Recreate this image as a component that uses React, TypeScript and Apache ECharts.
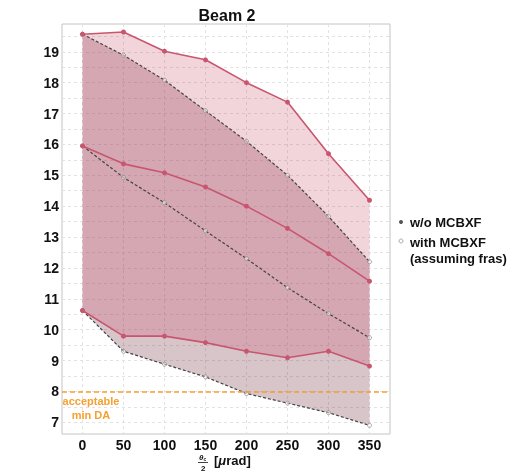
import React, { useEffect, useRef } from "react";
import * as echarts from "echarts";

const thetaHalf = [0, 50, 100, 150, 200, 250, 300, 350];
const xTicks = [0, 50, 100, 150, 200, 250, 300, 350];
const yTicks = [7, 8, 9, 10, 11, 12, 13, 14, 15, 16, 17, 18, 19];
const yGrid = [7, 7.5, 8, 8.5, 9, 9.5, 10, 10.5, 11, 11.5, 12, 12.5, 13, 13.5, 14, 14.5, 15, 15.5, 16, 16.5, 17, 17.5, 18, 18.5, 19, 19.5];

// with MCBXF (assuming fras)
const withMax = [19.57, 19.64, 19.02, 18.74, 18.0, 17.37, 15.7, 14.19];
const withMean = [15.95, 15.37, 15.08, 14.62, 14.0, 13.28, 12.46, 11.57];
const withMin = [10.62, 9.79, 9.79, 9.58, 9.3, 9.09, 9.3, 8.82];

// w/o MCBXF
const woMax = [19.57, 18.89, 18.08, 17.09, 16.1, 15.0, 13.67, 12.2];
const woMean = [15.95, 14.93, 14.11, 13.2, 12.3, 11.36, 10.52, 9.74];
const woMin = [10.62, 9.3, 8.88, 8.47, 7.93, 7.62, 7.31, 6.9];

const minDA = 8;

const FONT = "'Liberation Sans', Arial, sans-serif";
const RED = "#c9566f";
const DASH = "#444444";

const pairs = (ys: number[]) => thetaHalf.map((x, i) => [x, ys[i]]);

const band = (name: string, hi: number[], lo: number[], fill: string, z: number) => ({
  name,
  type: "custom",
  z,
  silent: true,
  data: [[0]],
  renderItem: (_params: any, api: any) => {
    const top = thetaHalf.map((x, i) => api.coord([x, hi[i]]));
    const bottom = thetaHalf.map((x, i) => api.coord([x, lo[i]])).reverse();
    return {
      type: "polygon",
      shape: { points: top.concat(bottom) },
      style: { fill, stroke: "none" },
    };
  },
});

export default function App() {
  const ref = useRef<HTMLDivElement>(null);
  useEffect(() => {
    if (!ref.current) return;
    const chart = echarts.init(ref.current, null, { renderer: "svg" });
    const redLine = (name: string, ys: number[]) => ({
      name,
      type: "line",
      data: pairs(ys),
      z: 5,
      symbol: "circle",
      symbolSize: 5,
      lineStyle: { color: RED, width: 1.6 },
      itemStyle: { color: RED },
    });
    const dashLine = (name: string, ys: number[]) => ({
      name,
      type: "line",
      data: pairs(ys),
      z: 4,
      symbol: "circle",
      symbolSize: 4,
      lineStyle: { color: DASH, width: 1.2, type: [3, 2] },
      itemStyle: { color: "rgba(255,255,255,0.5)", borderColor: "#8a8a8a", borderWidth: 0.8 },
    });
    chart.setOption({
      animation: false,
      title: {
        text: "Beam 2",
        left: 222,
        textAlign: "center",
        top: 2,
        textStyle: { fontFamily: FONT, fontWeight: "bold", fontSize: 16, color: "#111" },
      },
      grid: {
        left: 62,
        top: 24,
        width: 328,
        height: 410,
        show: true,
        borderColor: "#c4c4c4",
        borderWidth: 1,
        backgroundColor: "transparent",
      },
      xAxis: {
        type: "value",
        min: -25,
        max: 375,
        axisLine: { show: false },
        axisTick: { show: false, customValues: xTicks },
        axisLabel: {
          customValues: xTicks,
          fontFamily: FONT,
          fontWeight: "bold",
          fontSize: 14,
          color: "#111",
          margin: 4,
        },
        splitLine: { show: true, lineStyle: { color: "#e2e2e2", type: [3, 3] } },
      },
      yAxis: {
        type: "value",
        min: 6.62,
        max: 19.9,
        axisLine: { show: false },
        axisTick: { show: false, customValues: yGrid },
        axisLabel: {
          customValues: yTicks,
          fontFamily: FONT,
          fontWeight: "bold",
          fontSize: 14,
          color: "#111",
          margin: 3,
        },
        splitLine: { show: true, lineStyle: { color: "#e2e2e2", type: [3, 3] } },
      },
      series: [
        band("w/o band", woMax, woMin, "rgba(110,40,60,0.27)", 1),
        band("with band", withMax, withMin, "rgba(200,70,100,0.23)", 2),
        dashLine("w/o max", woMax),
        dashLine("w/o mean", woMean),
        {
          ...dashLine("w/o min", woMin),
          markLine: {
            silent: true,
            symbol: "none",
            label: { show: false },
            lineStyle: { color: "#f5a030", width: 1.5, type: [5, 3] },
            data: [{ yAxis: minDA }],
          },
        },
        redLine("with max", withMax),
        redLine("with mean", withMean),
        redLine("with min", withMin),
      ],
      graphic: [
        {
          type: "text",
          x: 91,
          y: 394,
          z: 10,
          style: {
            text: "acceptable\nmin DA",
            fontFamily: FONT,
            fontWeight: "bold",
            fontSize: 11,
            lineHeight: 14,
            fill: "#f5a030",
            align: "center",
          },
        },
        { type: "circle", shape: { cx: 401, cy: 222, r: 2 }, style: { fill: "#555" } },
        { type: "circle", shape: { cx: 401, cy: 241, r: 2 }, style: { fill: "#fff", stroke: "#aaa", lineWidth: 1 } },
        {
          type: "text",
          x: 410,
          y: 222,
          style: { text: "w/o MCBXF", fontFamily: FONT, fontWeight: "bold", fontSize: 13, fill: "#111", verticalAlign: "middle" },
        },
        {
          type: "text",
          x: 410,
          y: 234,
          style: {
            text: "with MCBXF\n(assuming fras)",
            fontFamily: FONT,
            fontWeight: "bold",
            fontSize: 13,
            lineHeight: 16,
            fill: "#111",
          },
        },
        {
          type: "text",
          x: 199,
          y: 453,
          style: {
            text: "{t|θ}{s|c}",
            rich: {
              t: { fontFamily: FONT, fontSize: 8, fontStyle: "italic", fontWeight: "bold", fill: "#111" },
              s: { fontFamily: FONT, fontSize: 5, fontWeight: "bold", fill: "#111", verticalAlign: "bottom" },
            },
          },
        },
        { type: "line", shape: { x1: 198, y1: 462.5, x2: 208, y2: 462.5 }, style: { stroke: "#111", lineWidth: 0.8 } },
        {
          type: "text",
          x: 201,
          y: 464,
          style: { text: "2", fontFamily: FONT, fontSize: 8, fontWeight: "bold", fill: "#111" },
        },
        {
          type: "text",
          x: 214,
          y: 460,
          style: {
            text: "[{m|μ}rad]",
            fontFamily: FONT,
            fontWeight: "bold",
            fontSize: 13,
            fill: "#111",
            verticalAlign: "middle",
            rich: {
              m: { fontFamily: FONT, fontWeight: "bold", fontStyle: "italic", fontSize: 13, fill: "#111" },
            },
          },
        },
      ],
    });
    return () => chart.dispose();
  }, []);
  return <div ref={ref} style={{ position: "fixed", left: 0, top: 0, width: 510, height: 474 }} />;
}
